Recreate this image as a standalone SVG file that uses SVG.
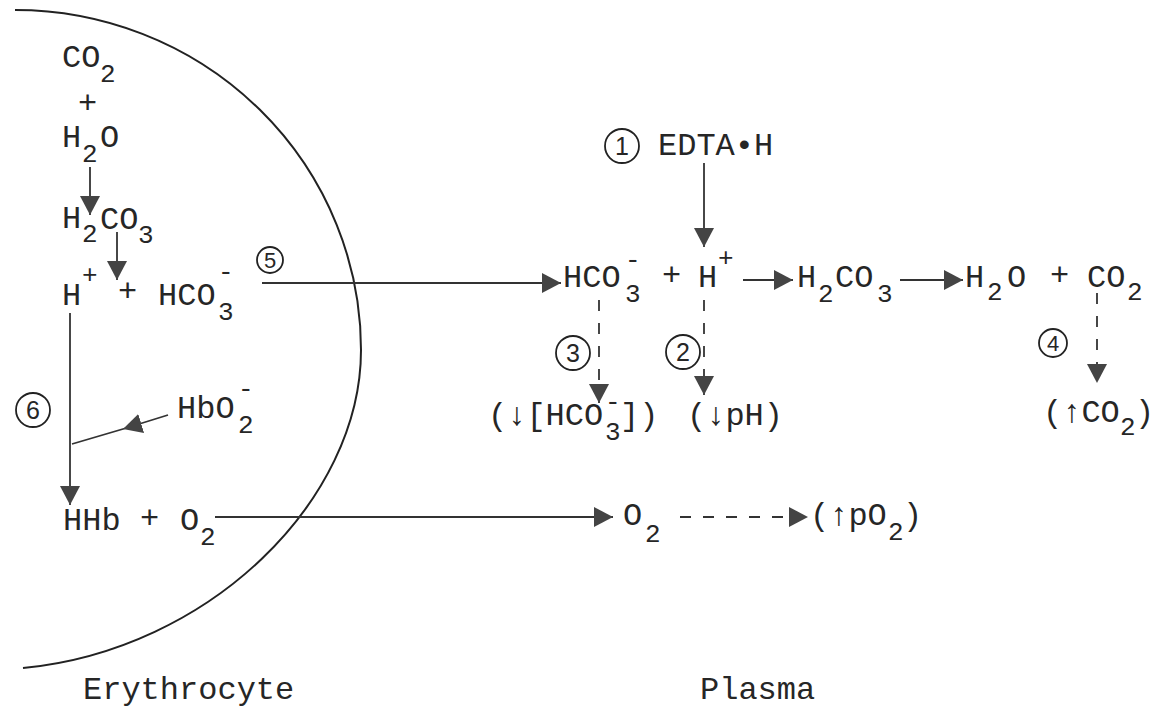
<svg xmlns="http://www.w3.org/2000/svg" width="1159" height="711" viewBox="0 0 1159 711">
<defs>
<style>
text{font-family:"Liberation Mono","Courier New",monospace;font-size:32px;fill:#262626}
.s{font-size:26px}
.n{font-family:"Liberation Sans",Arial,sans-serif;font-size:25px;text-anchor:middle}
.c{fill:none;stroke:#222;stroke-width:1.8}
.ln{fill:none;stroke:#333;stroke-width:1.8}
.d{fill:none;stroke:#333;stroke-width:1.8;stroke-dasharray:11 12}
.cell{fill:none;stroke:#222;stroke-width:2}
</style>
<marker id="ah" markerUnits="userSpaceOnUse" markerWidth="22" markerHeight="22" refX="19" refY="10" orient="auto">
<path d="M0,0 L19,10 L0,20 z" fill="#444"/>
</marker>
</defs>
<rect width="1159" height="711" fill="#fff"/>

<g id="cell-membrane">
<path class="cell" d="M15,10 A346,340 0 0 1 361,350 C361,500 210,650 23,668"/>
</g>

<g id="connectors">
<line class="ln" x1="90" y1="167" x2="90" y2="215" marker-end="url(#ah)"/>
<line class="ln" x1="117" y1="232" x2="117" y2="280" marker-end="url(#ah)"/>
<line class="ln" x1="262" y1="283" x2="561" y2="283" marker-end="url(#ah)"/>
<line class="ln" x1="70" y1="313" x2="70" y2="505" marker-end="url(#ah)"/>
<path class="ln" d="M168,415 L123,429 L72,444" marker-mid="url(#ah)"/>
<line class="ln" x1="215" y1="517" x2="613" y2="517" marker-end="url(#ah)"/>
<line class="ln" x1="704" y1="163" x2="704" y2="247" marker-end="url(#ah)"/>
<line class="ln" x1="743" y1="280" x2="793" y2="280" marker-end="url(#ah)"/>
<line class="ln" x1="900" y1="280" x2="963" y2="280" marker-end="url(#ah)"/>
<line class="d" x1="599" y1="300" x2="599" y2="403" marker-end="url(#ah)"/>
<line class="d" x1="704" y1="300" x2="704" y2="395" marker-end="url(#ah)"/>
<line class="d" x1="1097" y1="293" x2="1097" y2="383" stroke-dasharray="10 9" marker-end="url(#ah)"/>
<line class="d" x1="680" y1="517" x2="808" y2="517" stroke-dasharray="10 16" marker-end="url(#ah)"/>
</g>

<g id="ery-co2"><text x="62" y="67">CO</text><text class="s" x="100" y="82">2</text></g>
<g id="ery-plus"><text x="78" y="113">+</text></g>
<g id="ery-h2o"><text x="62" y="147">H</text><text class="s" x="82" y="162">2</text><text x="100" y="147">O</text></g>
<g id="ery-h2co3"><text x="62" y="228">H</text><text class="s" x="82" y="242">2</text><text x="100" y="229">CO</text><text class="s" x="138" y="243">3</text></g>
<g id="ery-ions"><text x="62" y="305">H</text><text class="s" x="82" y="283">+</text><text x="118" y="301">+</text><text x="158" y="305">HCO</text><text class="s" x="218" y="320">3</text><text class="s" x="218" y="280">-</text></g>
<g id="label-5"><circle class="c" cx="270" cy="260" r="13"/><text class="n" x="270" y="268" style="font-size:22px">5</text></g>
<g id="label-6"><circle class="c" cx="33" cy="410" r="17"/><text class="n" x="33" y="419">6</text></g>
<g id="ery-hbo2"><text x="177" y="418">HbO</text><text class="s" x="238" y="433">2</text><text class="s" x="238" y="397">-</text></g>
<g id="ery-hhb"><text x="63" y="530">HHb</text><text x="140" y="528">+</text><text x="180" y="530">O</text><text class="s" x="200" y="545">2</text></g>

<g id="label-1"><circle class="c" cx="622" cy="146" r="17"/><text class="n" x="622" y="155">1</text></g>
<g id="edta"><text x="658" y="155">EDTA•H</text></g>
<g id="pl-hco3"><text x="563" y="287">HCO</text><text class="s" x="625" y="302">3</text><text class="s" x="625" y="268">-</text></g>
<g id="pl-plus1"><text x="662" y="285">+</text></g>
<g id="pl-h"><text x="698" y="287">H</text><text class="s" x="718" y="266">+</text></g>
<g id="pl-h2co3"><text x="797" y="287">H</text><text class="s" x="818" y="302">2</text><text x="835" y="287">CO</text><text class="s" x="877" y="302">3</text></g>
<g id="pl-h2o"><text x="965" y="287">H</text><text class="s" x="987" y="300">2</text><text x="1007" y="287">O</text></g>
<g id="pl-plus2"><text x="1050" y="285">+</text></g>
<g id="pl-co2"><text x="1087" y="287">CO</text><text class="s" x="1127" y="300">2</text></g>
<g id="label-3"><circle class="c" cx="573" cy="353" r="17"/><text class="n" x="573" y="362">3</text></g>
<g id="label-2"><circle class="c" cx="683" cy="352" r="17"/><text class="n" x="683" y="361">2</text></g>
<g id="label-4"><circle class="c" cx="1053" cy="343" r="14"/><text class="n" x="1053" y="351" style="font-size:22px">4</text></g>
<g id="res-hco3"><text x="488" y="425">(↓[HCO</text><text class="s" x="605" y="440">3</text><text class="s" x="605" y="410">-</text><text x="620" y="425">])</text></g>
<g id="res-ph"><text x="687" y="425">(↓pH)</text></g>
<g id="res-co2"><text x="1043" y="422">(↑CO</text><text class="s" x="1120" y="435">2</text><text x="1135" y="422">)</text></g>
<g id="pl-o2"><text x="623" y="525">O</text><text class="s" x="645" y="542">2</text></g>
<g id="res-po2"><text x="810" y="525">(↑pO</text><text class="s" x="888" y="540">2</text><text x="903" y="525">)</text></g>

<g id="caption-ery"><text x="83" y="699">Erythrocyte</text></g>
<g id="caption-plasma"><text x="700" y="699">Plasma</text></g>
</svg>
